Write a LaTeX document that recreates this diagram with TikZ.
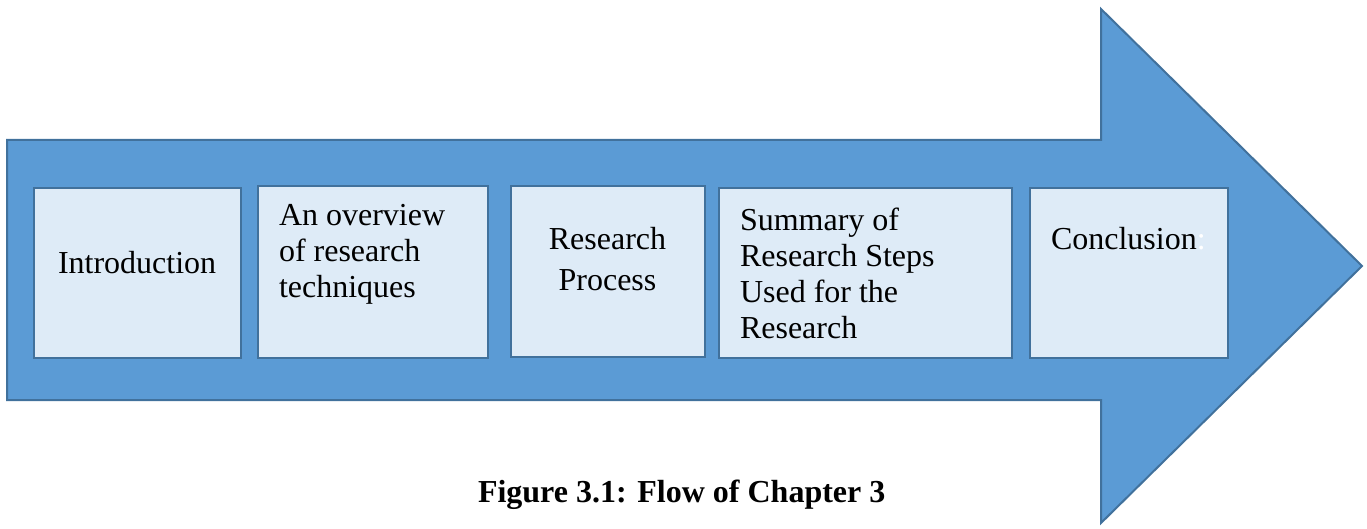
\documentclass[tikz,border=0pt]{standalone}
\usepackage{fontspec}
\setmainfont{Liberation Serif}
\definecolor{arrowfill}{HTML}{5B9BD5}
\definecolor{arrowline}{HTML}{41719C}
\definecolor{boxfill}{HTML}{DEEBF7}
\begin{document}
\begin{tikzpicture}[x=1pt,y=-1pt,
  stepbox/.style={draw=arrowline, fill=boxfill, line width=2pt, inner sep=0pt, outer sep=0pt},
  label/.style={inner sep=0pt, outer sep=0pt, font=\fontsize{32}{36}\selectfont},
]
\useasboundingbox (0,0) rectangle (1367,529);
% the big block arrow
\draw[draw=arrowline, fill=arrowfill, line width=2pt, line join=miter]
  (7,140) -- (1101,140) -- (1101,9) -- (1362,266) -- (1101,523) -- (1101,400) -- (7,400) -- cycle;
% step boxes
\node[stepbox, minimum width=207pt, minimum height=170pt] (b1) at (137.5,273) {};
\node[stepbox, minimum width=230pt, minimum height=172pt] (b2) at (373,272) {};
\node[stepbox, minimum width=194pt, minimum height=171pt] (b3) at (608,271.5) {};
\node[stepbox, minimum width=293pt, minimum height=170pt] (b4) at (865.5,273) {};
\node[stepbox, minimum width=198pt, minimum height=170pt] (b5) at (1129,273) {};
% step labels (multi-line labels are anchored at the baseline of their last line)
\node[label, anchor=base west] (t1) at (58,273) {Introduction};
\node[label, anchor=base west, align=left] (t2) at (279,298) {An overview\\of research\\techniques};
\node[label, anchor=base, align=center, font=\fontsize{32}{40}\selectfont] (t3) at (607.5,290) {Research\\Process};
\node[label, anchor=base west, align=left] (t4) at (740,338) {Summary of\\Research Steps\\Used for the\\Research};
\node[label, anchor=base west] (t5) at (1051,250) {Conclusion\textcolor{white}{:}};
% caption
\node[label, anchor=base west, font=\fontsize{32}{36}\selectfont\bfseries] (cap) at (478,502) {Figure 3.1: Flow of Chapter 3};
\end{tikzpicture}
\end{document}
